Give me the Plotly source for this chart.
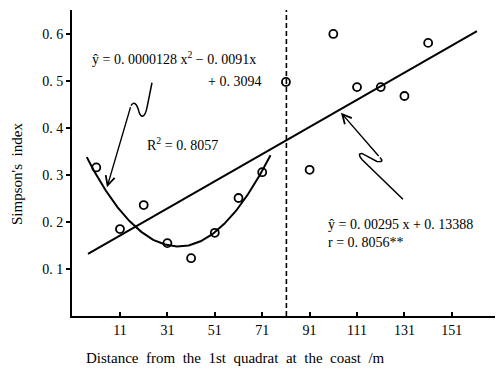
import plotly.graph_objects as go

# Observed points (distance from 1st quadrat, Simpson's index)
distance = [1, 11, 21, 31, 41, 51, 61, 71, 81, 91, 101, 111, 121, 131, 141]
simpson = [0.316, 0.185, 0.236, 0.155, 0.123, 0.177, 0.251, 0.306, 0.498,
           0.311, 0.600, 0.487, 0.487, 0.468, 0.581]

# Linear fit line
lin_x = [-2.5, 161.6]
lin_y = [0.132, 0.606]

# Quadratic fit curve
quad_x = [-3, 0, 5, 10, 15, 20, 25, 30, 35, 40, 45, 50, 55, 60, 65, 70, 74.5]
quad_y = [0.338, 0.309, 0.267, 0.231, 0.202, 0.179, 0.162, 0.152, 0.148, 0.150,
          0.159, 0.174, 0.196, 0.224, 0.259, 0.300, 0.342]

# Boundary (dashed) position
boundary_x = 81.2

x_ticks = [11, 31, 51, 71, 91, 111, 131, 151]
y_ticks = [0.1, 0.2, 0.3, 0.4, 0.5, 0.6]
y_ticktext = ["0. 1", "0. 2", "0. 3", "0. 4", "0. 5", "0. 6"]

FONT = "Liberation Serif"

fig = go.Figure()
fig.add_trace(go.Scatter(x=quad_x, y=quad_y, mode="lines",
                         line=dict(color="black", width=2), showlegend=False))
fig.add_trace(go.Scatter(x=lin_x, y=lin_y, mode="lines",
                         line=dict(color="black", width=2), showlegend=False))
fig.add_trace(go.Scatter(x=distance, y=simpson, mode="markers",
                         marker=dict(symbol="circle-open", size=8, color="black",
                                     line=dict(width=1.8, color="black")),
                         showlegend=False))

# dashed boundary line
fig.add_shape(type="line", x0=boundary_x, x1=boundary_x, y0=0, y1=0.651,
              xref="x", yref="y", line=dict(color="black", width=1.6, dash="5px,3px"))

# squiggly arrow 1 (to the quadratic curve)
fig.add_shape(type="path", xref="x", yref="y",
              path="M 24.50,0.4962 L 22.39,0.4432 C 21.54,0.4220 19.86,0.4199 19.01,0.4347 "
                   "C 18.17,0.4517 16.90,0.4581 15.64,0.4475",
              line=dict(color="black", width=1.5))
fig.add_annotation(x=5.52, y=0.2737, ax=15.64, ay=0.4475, axref="x", ayref="y",
                   xref="x", yref="y", text="", showarrow=True, arrowhead=5,
                   arrowsize=1.3, arrowwidth=1.4, arrowcolor="black")

# squiggly arrow 2 (to the linear line)
fig.add_shape(type="path", xref="x", yref="y",
              path="M 120.66,0.3373 Q 122.77,0.3267 119.39,0.3288 L 113.07,0.3458 "
                   "Q 110.96,0.3458 113.07,0.3331 L 130.36,0.2483",
              line=dict(color="black", width=1.5))
fig.add_annotation(x=104.21, y=0.4326, ax=120.66, ay=0.3373, axref="x", ayref="y",
                   xref="x", yref="y", text="", showarrow=True, arrowhead=5,
                   arrowsize=1.3, arrowwidth=1.4, arrowcolor="black")

tf = dict(family=FONT, size=14, color="black")
fig.add_annotation(x=-1.65, y=0.549, xref="x", yref="y", xanchor="left", yanchor="middle",
                   text="ŷ = 0. 0000128 x<sup>2</sup> − 0. 0091x", showarrow=False, font=tf)
fig.add_annotation(x=71.3, y=0.498, xref="x", yref="y", xanchor="right", yanchor="middle",
                   text="+ 0. 3094", showarrow=False, font=tf)
fig.add_annotation(x=21.5, y=0.365, xref="x", yref="y", xanchor="left", yanchor="middle",
                   text="R<sup>2</sup> = 0. 8057", showarrow=False, font=tf)
fig.add_annotation(x=97.9, y=0.195, xref="x", yref="y", xanchor="left", yanchor="middle",
                   text="ŷ = 0. 00295 x + 0. 13388", showarrow=False, font=tf)
fig.add_annotation(x=97.9, y=0.157, xref="x", yref="y", xanchor="left", yanchor="middle",
                   text="r = 0. 8056**", showarrow=False, font=tf)

# axis titles
fig.add_annotation(x=(235 - 72) / 423, y=-(358 - 316) / 306, xref="paper", yref="paper",
                   xanchor="center", yanchor="middle", showarrow=False,
                   text="Distance  from  the  1st  quadrat  at  the  coast  /m",
                   font=dict(family=FONT, size=15, color="black"))
fig.add_annotation(x=-(72 - 17) / 423, y=(316 - 174) / 306, xref="paper", yref="paper",
                   xanchor="center", yanchor="middle", showarrow=False, textangle=-90,
                   text="Simpson's  index", font=dict(family=FONT, size=15, color="black"))

fig.update_layout(
    width=498, height=373,
    margin=dict(l=72, r=3, t=10, b=57),
    paper_bgcolor="white", plot_bgcolor="white",
    font=dict(family=FONT),
    xaxis=dict(range=[-9.24, 169.2], tickvals=x_ticks, showgrid=False, zeroline=False,
               showline=True, linecolor="black", linewidth=2, ticks="inside", ticklen=4,
               tickwidth=1.5, tickcolor="black",
               tickfont=dict(family=FONT, size=14, color="black")),
    yaxis=dict(range=[0, 0.651], tickvals=y_ticks, ticktext=y_ticktext, showgrid=False,
               zeroline=False, showline=True, linecolor="black", linewidth=2,
               ticks="outside", ticklen=4, tickwidth=1.5, tickcolor="black",
               tickfont=dict(family=FONT, size=14, color="black")),
)

fig.write_html("out.html")
